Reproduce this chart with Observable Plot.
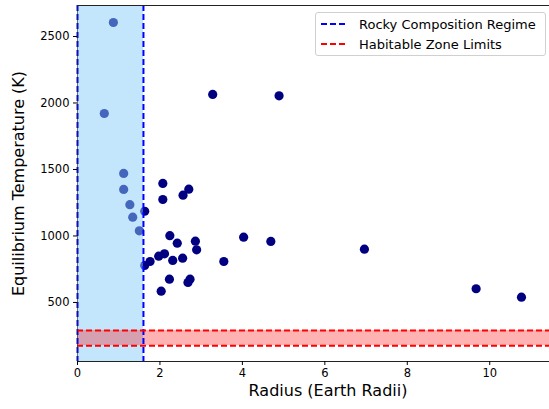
<!DOCTYPE html>
<html>
<head>
<meta charset="utf-8">
<script src="https://cdn.jsdelivr.net/npm/d3@7"></script>
<script src="https://cdn.jsdelivr.net/npm/@observablehq/plot@0.6"></script>
<style>
  html, body { margin: 0; padding: 0; background: white; }
  #wrap { position: relative; width: 549px; height: 409px; overflow: hidden; font-family: "DejaVu Sans", sans-serif; }
  #legend { position: absolute; left: 315px; top: 12px; width: 229px; height: 42px; border: 1px solid #d0d0d0; border-radius: 3px; background: rgba(255,255,255,0.8); font-size: 13px; color: #000; }
  #legend .row { position: absolute; left: 0; height: 20px; display: flex; align-items: center; white-space: nowrap; }
  #legend svg { margin-left: 5px; margin-right: 11px; }
</style>
</head>
<body>
<div id="wrap"></div>
<script>
// Data
const radius = [0.65, 0.87, 1.12, 1.12, 1.27, 1.34, 1.50, 1.63, 1.63, 1.76, 1.97, 2.11, 2.07, 2.07, 2.70, 2.56, 2.24, 2.42, 2.86, 2.89, 2.31, 2.55, 2.23, 2.73, 2.68, 2.03, 3.55, 4.03, 4.69, 6.96, 9.67, 10.77, 3.28, 4.89];
const temperature = [1921, 2605, 1470, 1350, 1235, 1141, 1039, 1186, 778, 808, 848, 866, 1395, 1274, 1352, 1307, 1002, 946, 961, 896, 816, 833, 675, 675, 650, 585, 808, 991, 959, 901, 603, 540, 2064, 2054];
const rockyRange = [0, 1.6];
const habitableLimits = [175, 290];
const xTicks = [0, 2, 4, 6, 8, 10];
const yTicks = [500, 1000, 1500, 2000, 2500];
const xDomain = [0, 11.45];
const yDomain = [56, 2733];
const legendLabels = ["Rocky Composition Regime", "Habitable Zone Limits"];
const legendColors = ["blue", "red"];

const planets = radius.map((r, i) => ({r, t: temperature[i]}));

const chart = Plot.plot({
  width: 549,
  height: 409,
  marginLeft: 77,
  marginRight: 0,
  marginTop: 5,
  marginBottom: 48,
  style: {fontFamily: "DejaVu Sans", fontSize: "11.5px", color: "black", background: "white"},
  x: {domain: xDomain, label: null},
  y: {domain: yDomain, label: null},
  marks: [
    Plot.dot(planets, {x: "r", y: "t", r: 4.6, fill: "#000080", stroke: "none"}),
    Plot.rect([{x1: rockyRange[0], x2: rockyRange[1]}], {x1: "x1", x2: "x2", fill: "#87CEFA", fillOpacity: 0.5}),
    Plot.rect([{y1: habitableLimits[0], y2: habitableLimits[1]}], {y1: "y1", y2: "y2", fill: "red", fillOpacity: 0.3}),
    Plot.ruleX(rockyRange, {stroke: "blue", strokeWidth: 2, strokeDasharray: "6,3"}),
    Plot.ruleY(habitableLimits, {stroke: "red", strokeWidth: 2, strokeDasharray: "6,3"}),
    Plot.ruleX([xDomain[0]], {stroke: "#222", strokeWidth: 1, strokeOpacity: 0.6}),
    Plot.ruleY([yDomain[0], yDomain[1]], {stroke: "#222", strokeWidth: 1.1}),
    Plot.axisX(xTicks, {tickSize: 4, tickPadding: 3, fontSize: 11.5, tickFormat: d => String(d)}),
    Plot.axisY(yTicks, {tickSize: 4, tickPadding: 4, fontSize: 11.5, tickFormat: d => String(d)}),
    Plot.text(["Radius (Earth Radii)"], {frameAnchor: "bottom", dy: 34, dx: 14.5, fontSize: 16, fill: "black"}),
    Plot.text(["Equilibrium Temperature (K)"], {frameAnchor: "left", textAnchor: "middle", rotate: -90, dx: -59, fontSize: 16, fill: "black"})
  ]
});

const wrap = document.getElementById("wrap");
wrap.appendChild(chart);

const legend = document.createElement("div");
legend.id = "legend";
legendLabels.forEach((lab, i) => {
  const row = document.createElement("div");
  row.className = "row";
  row.style.top = (1 + i * 20) + "px";
  row.innerHTML = `<svg width="27" height="10"><line x1="0" y1="5" x2="27" y2="5" stroke="${legendColors[i]}" stroke-width="2" stroke-dasharray="6,3"/></svg><span>${lab}</span>`;
  legend.appendChild(row);
});
wrap.appendChild(legend);
</script>
</body>
</html>
